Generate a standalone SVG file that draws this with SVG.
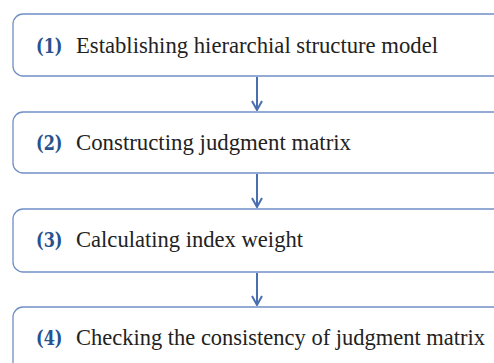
<svg xmlns="http://www.w3.org/2000/svg" width="494" height="363" viewBox="0 0 494 363">
<style>
.box{fill:#fff;stroke:#6f8fc6;stroke-width:1.3}
.num{font-family:"DejaVu Serif","Liberation Serif",serif;font-weight:bold;fill:#27528f;font-size:19.5px}
.lbl{font-family:"Liberation Serif",serif;fill:#222;font-size:22.5px}
.con{stroke:#4a6fb0;stroke-width:2;fill:none}
</style>
<defs>
<marker id="ah" viewBox="0 0 12 12" refX="11" refY="6" markerWidth="12" markerHeight="12" markerUnits="userSpaceOnUse" orient="auto">
<path d="M2,1 L11,6 L2,11" fill="none" stroke="#4a6fb0" stroke-width="2"/>
</marker>
</defs>
<rect width="494" height="363" fill="#fff"/>
<g id="n1"><rect class="box" x="13" y="14" width="495" height="62" rx="10"/><text class="num" x="36" y="53" textLength="26.5" lengthAdjust="spacingAndGlyphs">(1)</text><text class="lbl" x="76" y="53" textLength="362" lengthAdjust="spacingAndGlyphs">Establishing hierarchial structure model</text></g>
<g id="n2"><rect class="box" x="13" y="112" width="495" height="61" rx="10"/><text class="num" x="36" y="150" textLength="26.5" lengthAdjust="spacingAndGlyphs">(2)</text><text class="lbl" x="76" y="150" textLength="275" lengthAdjust="spacingAndGlyphs">Constructing judgment matrix</text></g>
<g id="n3"><rect class="box" x="13" y="209" width="495" height="63" rx="10"/><text class="num" x="36" y="247" textLength="26.5" lengthAdjust="spacingAndGlyphs">(3)</text><text class="lbl" x="76" y="247" textLength="227" lengthAdjust="spacingAndGlyphs">Calculating index weight</text></g>
<g id="n4"><rect class="box" x="13" y="307" width="495" height="70" rx="10"/><text class="num" x="36" y="345" textLength="26.5" lengthAdjust="spacingAndGlyphs">(4)</text><text class="lbl" x="76" y="345" textLength="409" lengthAdjust="spacingAndGlyphs">Checking the consistency of judgment matrix</text></g>
<g id="connectors">
<line class="con" x1="257" y1="77" x2="257" y2="110" marker-end="url(#ah)"/>
<line class="con" x1="257" y1="174" x2="257" y2="207" marker-end="url(#ah)"/>
<line class="con" x1="257" y1="273" x2="257" y2="305" marker-end="url(#ah)"/>
</g>
</svg>
